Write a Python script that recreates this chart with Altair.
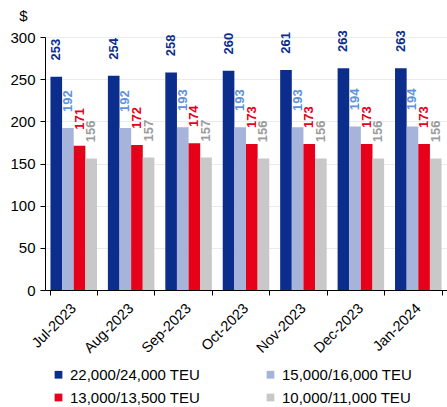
import altair as alt
import pandas as pd

months = ["Jul-2023", "Aug-2023", "Sep-2023", "Oct-2023", "Nov-2023", "Dec-2023", "Jan-2024"]
series = ["22,000/24,000 TEU", "15,000/16,000 TEU", "13,000/13,500 TEU", "10,000/11,000 TEU"]
v_22k = [253, 254, 258, 260, 261, 263, 263]
v_15k = [192, 192, 193, 193, 193, 194, 194]
v_13k = [171, 172, 174, 173, 173, 173, 173]
v_10k = [156, 157, 157, 156, 156, 156, 156]

bar_colors = ["#0B2D8C", "#A6B3DA", "#E6001A", "#C8C8C8"]
label_colors = ["#0B2D8C", "#5E93DC", "#E6001A", "#9B9B9B"]

rows = []
for s, vals in zip(series, [v_22k, v_15k, v_13k, v_10k]):
    for m, v in zip(months, vals):
        rows.append({"month": m, "series": s, "value": v})
df = pd.DataFrame(rows)

FONT = "Liberation Sans"

x_enc = alt.X(
    "month:N", sort=months,
    scale=alt.Scale(paddingInner=0.19, paddingOuter=0.095),
    axis=alt.Axis(title=None, labelAngle=-45, labelAlign="right", labelBaseline="middle",
                  labelFontSize=14.5, labelColor="#000000", labelFont=FONT, labelPadding=11,
                  tickBand="extent", tickSize=5, tickColor="#000000",
                  domainColor="#000000", grid=False),
)
xoff = alt.XOffset("series:N", sort=series)
y_enc = alt.Y(
    "value:Q", scale=alt.Scale(domain=[0, 300], nice=False),
    axis=alt.Axis(values=[0, 50, 100, 150, 200, 250, 300], title="$", titleAngle=0,
                  titleX=-22, titleY=-22, titleAlign="center", titleBaseline="middle",
                  titleFontSize=15, titleFontWeight="normal", titleFont=FONT, titleColor="#000000",
                  labelFontSize=15, labelFont=FONT, labelColor="#000000", labelPadding=5,
                  tickSize=5, tickColor="#000000", domainColor="#000000",
                  grid=True, gridColor="#EBEBEB"),
)

bars = alt.Chart(df).mark_bar().encode(
    x=x_enc, xOffset=xoff, y=y_enc,
    color=alt.Color("series:N", sort=series,
                    scale=alt.Scale(domain=series, range=bar_colors),
                    legend=alt.Legend(title=None, orient="none", legendX=6, legendY=330,
                                      direction="horizontal",
                                      columns=2, columnPadding=62, rowPadding=7,
                                      symbolType="square", symbolSize=60, symbolStrokeWidth=0,
                                      labelFontSize=15, labelFont=FONT, labelColor="#000000",
                                      labelOffset=4, padding=0)),
)

labels = alt.Chart(df).mark_text(
    angle=270, align="center", baseline="middle", dx=27, fontSize=13,
    fontWeight="bold", font=FONT,
).encode(
    x=x_enc, xOffset=xoff, y=y_enc,
    text=alt.Text("value:Q"),
    color=alt.Color("series:N", scale=alt.Scale(domain=series, range=label_colors), legend=None),
)

chart = (
    alt.layer(bars, labels)
    .resolve_scale(color="independent")
    .properties(width=402, height=253,
                autosize=alt.AutoSizeParams(type="none"),
                padding={"left": 45, "top": 37, "right": 0, "bottom": 117})
    .configure_view(stroke=None)
)

chart.save("out.html", embed_options={"renderer": "svg", "actions": False})
